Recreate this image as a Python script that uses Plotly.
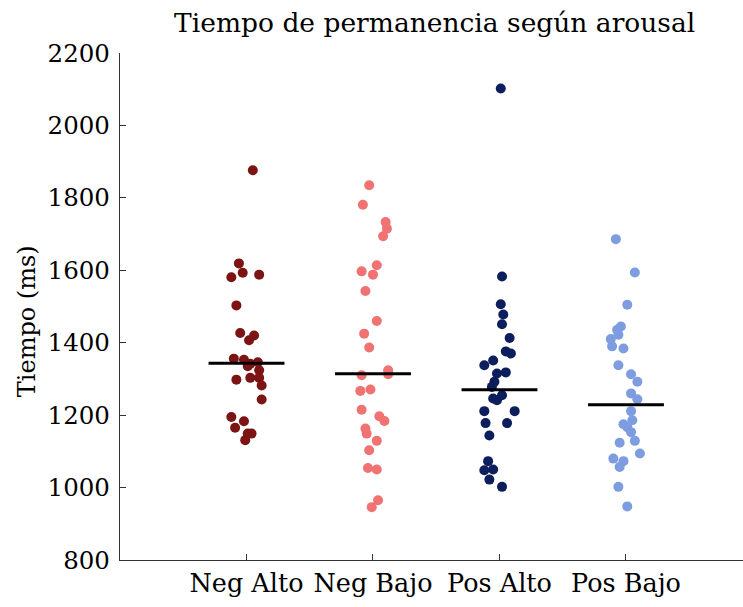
import plotly.graph_objects as go

# Categorías del eje x
categorias = ["Neg Alto", "Neg Bajo", "Pos Alto", "Pos Bajo"]

# Tiempo de permanencia (ms) por condición
tiempos_neg_alto = [1876, 1619, 1593, 1581, 1588, 1503, 1427, 1420, 1407, 1356,
                    1353, 1342, 1346, 1335, 1324, 1298, 1303, 1303, 1282, 1243,
                    1195, 1183, 1165, 1149, 1149, 1131]
tiempos_neg_bajo = [1835, 1781, 1733, 1715, 1694, 1614, 1597, 1588, 1543, 1460,
                    1425, 1387, 1324, 1313, 1310, 1267, 1271, 1215, 1197, 1184,
                    1163, 1149, 1129, 1103, 1054, 1050, 965, 946]
tiempos_pos_alto = [2102, 1583, 1506, 1478, 1451, 1413, 1376, 1370, 1351, 1338,
                    1318, 1315, 1292, 1278, 1255, 1246, 1241, 1211, 1211, 1178,
                    1178, 1144, 1073, 1048, 1050, 1022, 1002]
tiempos_pos_bajo = [1686, 1594, 1505, 1445, 1436, 1422, 1410, 1390, 1384, 1338,
                    1313, 1292, 1260, 1244, 1211, 1186, 1175, 1167, 1153, 1129,
                    1124, 1094, 1080, 1073, 1057, 1002, 948]

# Dispersión horizontal de cada punto (en unidades de categoría)
jitter_neg_alto = [0.05, -0.06, -0.03, -0.12, 0.10, -0.08, -0.05, 0.06, 0.02, -0.10,
                   -0.02, 0.03, 0.09, 0.01, 0.10, -0.08, 0.03, 0.10, 0.12, 0.12,
                   -0.12, -0.02, -0.09, 0.04, 0.01, -0.01]
jitter_neg_bajo = [-0.03, -0.08, 0.10, 0.11, 0.08, 0.03, -0.09, 0.00, -0.06, 0.03,
                   -0.07, -0.03, 0.12, 0.12, -0.09, -0.10, -0.02, -0.09, 0.05, 0.09,
                   -0.06, -0.05, 0.03, -0.03, -0.04, 0.03, 0.04, -0.01]
jitter_pos_alto = [0.01, 0.02, 0.01, 0.03, 0.02, 0.08, 0.05, 0.09, -0.05, -0.12,
                   0.05, -0.02, -0.04, -0.06, 0.02, -0.05, -0.02, -0.12, 0.12, -0.11,
                   0.06, -0.08, -0.09, -0.12, -0.05, -0.08, 0.02]
jitter_pos_bajo = [-0.08, 0.07, 0.01, -0.04, -0.07, -0.06, -0.12, -0.11, -0.02, -0.06,
                   0.04, 0.09, 0.04, 0.09, 0.04, 0.05, -0.02, 0.01, 0.04, 0.07,
                   -0.05, 0.11, -0.10, -0.02, -0.05, -0.06, 0.01]

# Media de cada condición (línea horizontal)
medias = [1343, 1314, 1270, 1229]

colores = ["#7d1414", "#f07272", "#0c1f5c", "#7e9ce0"]

series = [
    (tiempos_neg_alto, jitter_neg_alto),
    (tiempos_neg_bajo, jitter_neg_bajo),
    (tiempos_pos_alto, jitter_pos_alto),
    (tiempos_pos_bajo, jitter_pos_bajo),
]

fuente = "DejaVu Serif"

fig = go.Figure()

for i, (valores, jitter) in enumerate(series):
    posicion = i + 1
    fig.add_trace(go.Scatter(
        x=[posicion + d for d in jitter],
        y=valores,
        mode="markers",
        marker=dict(size=10, color=colores[i], line=dict(width=0)),
        name=categorias[i],
        showlegend=False,
        cliponaxis=False,
    ))

for i, media in enumerate(medias):
    posicion = i + 1
    fig.add_trace(go.Scatter(
        x=[posicion - 0.3, posicion + 0.3],
        y=[media, media],
        mode="lines",
        line=dict(color="black", width=3),
        showlegend=False,
        hoverinfo="skip",
    ))

fig.update_layout(
    width=743,
    height=607,
    margin=dict(l=120, r=0, t=53, b=47),
    paper_bgcolor="white",
    plot_bgcolor="white",
    font=dict(family=fuente, size=24, color="black"),
    title=dict(
        text="Tiempo de permanencia según arousal",
        x=0.585, xanchor="center",
        y=0.978, yanchor="top",
        font=dict(family=fuente, size=26.5, color="black"),
    ),
    xaxis=dict(
        range=[0, 4.925],
        tickmode="array",
        tickvals=[1, 2, 3, 4],
        ticktext=categorias,
        ticks="inside",
        ticklen=6,
        tickwidth=1.3,
        tickcolor="#333333",
        showline=True,
        linecolor="#333333",
        linewidth=1.3,
        showgrid=False,
        zeroline=False,
        tickfont=dict(family=fuente, size=25.5, color="black"),
    ),
    yaxis=dict(
        range=[800, 2200],
        tickmode="array",
        tickvals=[800, 1000, 1200, 1400, 1600, 1800, 2000, 2200],
        ticks="inside",
        ticklen=6,
        tickwidth=1.3,
        tickcolor="#333333",
        ticklabelstandoff=4,
        showline=True,
        linecolor="#333333",
        linewidth=1.3,
        showgrid=False,
        zeroline=False,
        tickfont=dict(family=fuente, size=24.5, color="black"),
    ),
    annotations=[
        dict(
            text="Tiempo (ms)",
            textangle=-90,
            xref="paper", yref="paper",
            x=-0.15, y=0.47,
            xanchor="center", yanchor="middle",
            showarrow=False,
            font=dict(family=fuente, size=24, color="black"),
        )
    ],
)

fig.write_html("out.html")
